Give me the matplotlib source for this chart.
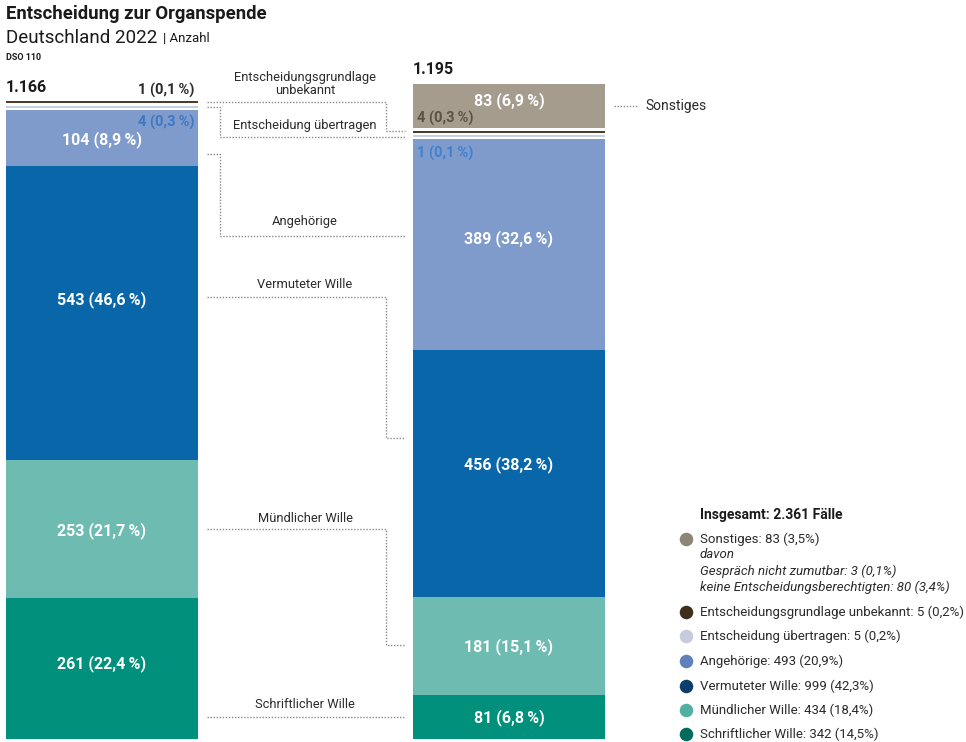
"""
Entscheidung zur Organspende - Deutschland 2022, two stacked bars with
dotted connectors between matching segments.
"""
import matplotlib
matplotlib.use("Agg")
import matplotlib.pyplot as plt

plt.rcParams["font.family"] = ["Roboto", "DejaVu Sans"]

# -- Data ----------------------------------------------------------------------
# segments bottom -> top
CATS = ["Schriftlicher Wille", "Mündlicher Wille", "Vermuteter Wille", "Angehörige",
        "Entscheidung übertragen", "Entscheidungsgrundlage unbekannt", "Sonstiges"]
LEFT  = [261, 253, 543, 104, 4, 1, 0]
RIGHT = [81, 181, 456, 389, 1, 4, 83]
SONST_DETAIL = [("Gespräch nicht zumutbar", 3), ("keine Entscheidungsberechtigten", 80)]

BAR_COL = ["#00907b", "#6dbbb1", "#0866a9", "#7f9bcc", "#c9cfe3", "#4b3c2b", "#a59c8e"]
DOT_COL = ["#006d5c", "#52b0a2", "#0b3e6c", "#5f80ba", "#c6cbdd", "#3d2e1e", "#8d8576"]

# -- Geometry (pixel layout) ---------------------------------------------------
W, H = 966, 742
BASE_PX, PX_PER = 739, 0.542        # y of value 0, pixels per case
THIN, MIN_H, GAP = 10, 4.0, 3.8     # thin segments drawn as lines with gaps
BAR_X, BAR_W = [101.5, 509], 192
# label nudges in pixels (positive = down), per bar and segment index
NUDGE = [{3: 2, 2: -14, 1: 2, 0: -5}, {6: -5, 3: -6, 2: -9}]

fig = plt.figure(figsize=(W / 100, H / 100), dpi=100)
ax = fig.add_axes([0, 0, 1, 1])
ax.set_xlim(0, W)
ax.set_ylim(-(H - BASE_PX) / PX_PER, BASE_PX / PX_PER)
ax.axis("off")
ov = fig.add_axes([0, 0, 1, 1])      # overlay in pixel coordinates
ov.set_xlim(0, W)
ov.set_ylim(H, 0)
ov.axis("off")
ov.patch.set_alpha(0)


def stack(values):
    bottoms, heights, cur, prev_thin = [], [], 0.0, False
    for v in values:
        if v == 0:
            bottoms.append(None)
            heights.append(0)
            continue
        thin = v < THIN
        if thin or prev_thin:
            cur += GAP
        h = max(v, MIN_H)
        bottoms.append(cur)
        heights.append(h)
        cur += h
        prev_thin = thin
    return bottoms, heights


def pct(v, tot, sep="\u2009"):
    return f"{v} ({v / tot * 100:.1f}{sep}%)".replace(".", ",")


WHITE = dict(color="white", fontsize=11.5, fontweight="bold", ha="center", va="center")

for i, vals in enumerate([LEFT, RIGHT]):
    tot = sum(vals)
    bots, hts = stack(vals)
    for j, v in enumerate(vals):
        if v == 0:
            continue
        ax.bar(BAR_X[i], hts[j], bottom=bots[j], width=BAR_W, color=BAR_COL[j],
               linewidth=0)
        if v >= THIN:
            yc = bots[j] + hts[j] / 2 - NUDGE[i].get(j, 0) / PX_PER
            ax.text(BAR_X[i], yc, pct(v, tot), **WHITE)
    top = bots[-1] + hts[-1] if vals[-1] else bots[-2] + hts[-2]
    ax.text(BAR_X[i] - BAR_W / 2, top + 12, f"{tot:,}".replace(",", "."),
            fontsize=11.5, fontweight="bold", color="#1a1a1a", va="bottom")

# small values labelled next to their thin lines
lb, lh = stack(LEFT)
rb, rh = stack(RIGHT)
ax.text(BAR_X[0] + BAR_W / 2 - 3, lb[5] + lh[5] + 6, pct(LEFT[5], sum(LEFT)),
        fontsize=10.5, fontweight="bold", color="#2b2b2b", ha="right", va="bottom")
ax.text(BAR_X[0] + BAR_W / 2 - 3, lb[3] + lh[3] - 24, pct(LEFT[4], sum(LEFT)),
        fontsize=10.5, fontweight="bold", color="#3d78c2", ha="right", va="center")
ax.text(BAR_X[1] - BAR_W / 2 + 4, rb[6] + 19, pct(RIGHT[5], sum(RIGHT)),
        fontsize=10.5, fontweight="bold", color="#5c5244", ha="left", va="center")
ax.text(BAR_X[1] - BAR_W / 2 + 4, rb[3] + rh[3] - 26, pct(RIGHT[4], sum(RIGHT)),
        fontsize=10.5, fontweight="bold", color="#3f80d0", ha="left", va="center")

# -- Connectors ----------------------------------------------------------------
DOT = dict(color="#8a8a8a", linestyle=(0, (1, 1.2)), linewidth=1.0)
CONNECT = [  # label, label y, path (x, y) in pixels
    ("Entscheidungsgrundlage\nunbekannt", 84, [(207, 102), (386, 102), (386, 131), (405, 131)]),
    ("Entscheidung übertragen", 126, [(207, 107), (220, 107), (220, 137), (405, 137)]),
    ("Angehörige", 222, [(207, 154), (220, 154), (220, 236), (405, 236)]),
    ("Vermuteter Wille", 285, [(207, 297), (386, 297), (386, 438), (405, 438)]),
    ("Mündlicher Wille", 518, [(207, 529), (386, 529), (386, 645), (405, 645)]),
    ("Schriftlicher Wille", 705, [(207, 717), (405, 717)]),
]
for label, ly, path in CONNECT:
    xs, ys = zip(*path)
    ov.plot(xs, ys, **DOT)
    ov.text(305, ly, label, fontsize=9.3, color="#2b2b2b", ha="center", va="center",
            linespacing=1.05)
ov.plot([614, 638], [106, 106], **DOT)
ov.text(645, 106, "Sonstiges", fontsize=10, color="#2b2b2b", va="center")

# -- Titles --------------------------------------------------------------------
ov.text(6, 14, "Entscheidung zur Organspende", fontsize=13.3, fontweight="bold",
        color="#1a1a1a", va="center")
ov.text(6, 38, "Deutschland 2022", fontsize=13.5, color="#1a1a1a", va="center")
ov.text(163, 39, "| Anzahl", fontsize=9.5, color="#1a1a1a", va="center")
ov.text(6, 58, "DSO 110", fontsize=6.5, fontweight="bold", color="#1a1a1a", va="center")

# -- Legend --------------------------------------------------------------------
GRAND = sum(LEFT) + sum(RIGHT)
ov.text(700, 515, f"Insgesamt: {GRAND:,} Fälle".replace(",", "."), fontsize=10,
        fontweight="bold", color="#1a1a1a", va="center")
leg_y = [539, 612, 636, 661, 686, 710, 734]
for k, j in enumerate([6, 5, 4, 3, 2, 1, 0]):
    v = LEFT[j] + RIGHT[j]
    ov.scatter(686, leg_y[k], s=95, color=DOT_COL[j], linewidths=0)
    ov.text(700, leg_y[k], f"{CATS[j]}: " + pct(v, GRAND, sep=""), fontsize=9.5,
            color="#2b2b2b", va="center")
ital = ["davon"] + [f"{n}: " + pct(v, GRAND, sep="") for n, v in SONST_DETAIL]
for k, t in enumerate(ital):
    ov.text(700, 555 + 16 * k, t, fontsize=9.5, style="italic", color="#2b2b2b",
            va="center")

fig.savefig("out.png", dpi=100)
